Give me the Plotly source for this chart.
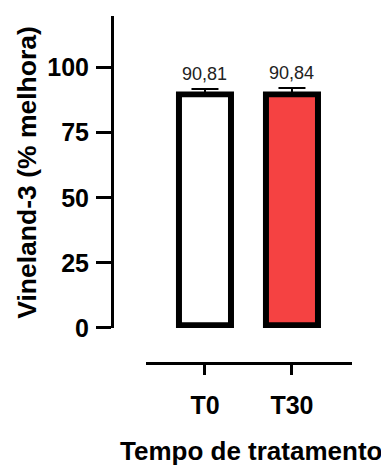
import plotly.graph_objects as go

categories = ["T0", "T30"]
values = [90.81, 90.84]
errors = [1.0, 1.3]
labels = ["90,81", "90,84"]
colors = ["#FFFFFF", "#F54242"]
y_ticks = [0, 25, 50, 75, 100]

W, H = 381, 473
FONT = "Liberation Sans, Arial, sans-serif"
BORDER = 2.24  # border thickness in y data units (drawn inside the bar, Prism style)

def px_x(p):
    return p / W

def px_y(p):
    return (H - p) / H

fig = go.Figure()
# outer black rectangle (border)
fig.add_trace(go.Bar(
    x=categories, y=values,
    width=0.667,
    marker=dict(color="black", line=dict(width=0)),
    error_y=dict(type="data", array=errors, visible=True, color="black",
                 thickness=2, width=13.5),
    showlegend=False, hoverinfo="skip",
))
# inner fill
fig.add_trace(go.Bar(
    x=categories, y=[v - 2 * BORDER for v in values], base=[BORDER] * len(values),
    width=0.529,
    marker=dict(color=colors, line=dict(width=0)),
    showlegend=False,
))

for c, v, t in zip(categories, values, labels):
    fig.add_annotation(x=c, y=v, text=t, showarrow=False, yanchor="middle",
                       yshift=18, font=dict(family=FONT, size=18, color="#222"))

fig.add_annotation(xref="paper", yref="paper", x=px_x(251), y=px_y(465),
                   text="<b>Tempo de tratamento</b>", showarrow=False,
                   xanchor="center", yanchor="middle",
                   font=dict(family=FONT, size=26, color="black"))
fig.add_annotation(xref="paper", yref="paper", x=px_x(27), y=px_y(178),
                   text="<b>Vineland-3 (% melhora)</b>", showarrow=False,
                   textangle=-90, xanchor="center", yanchor="middle",
                   font=dict(family=FONT, size=26.5, color="black"))

fig.update_layout(
    width=W, height=H,
    margin=dict(l=0, r=0, t=0, b=0),
    paper_bgcolor="white", plot_bgcolor="white",
    barmode="overlay",
    xaxis=dict(
        domain=[px_x(146), px_x(352)],
        anchor="free", position=px_y(374),
        range=[-0.678, 1.69],
        showline=True, linecolor="black", linewidth=3,
        ticks="outside", ticklen=10, tickwidth=3, tickcolor="black",
        ticklabelstandoff=9,
        tickfont=dict(family=FONT, size=25, color="black", weight="bold"),
        showgrid=False, zeroline=False,
    ),
    yaxis=dict(
        domain=[px_y(338), px_y(16)],
        anchor="free", position=px_x(112),
        range=[0, 120],
        tickvals=y_ticks,
        showline=True, linecolor="black", linewidth=3,
        ticks="outside", ticklen=15, tickwidth=3, tickcolor="black",
        ticklabelstandoff=2,
        tickfont=dict(family=FONT, size=25, color="black", weight="bold"),
        showgrid=False, zeroline=False,
    ),
)

fig.write_html("out.html")
